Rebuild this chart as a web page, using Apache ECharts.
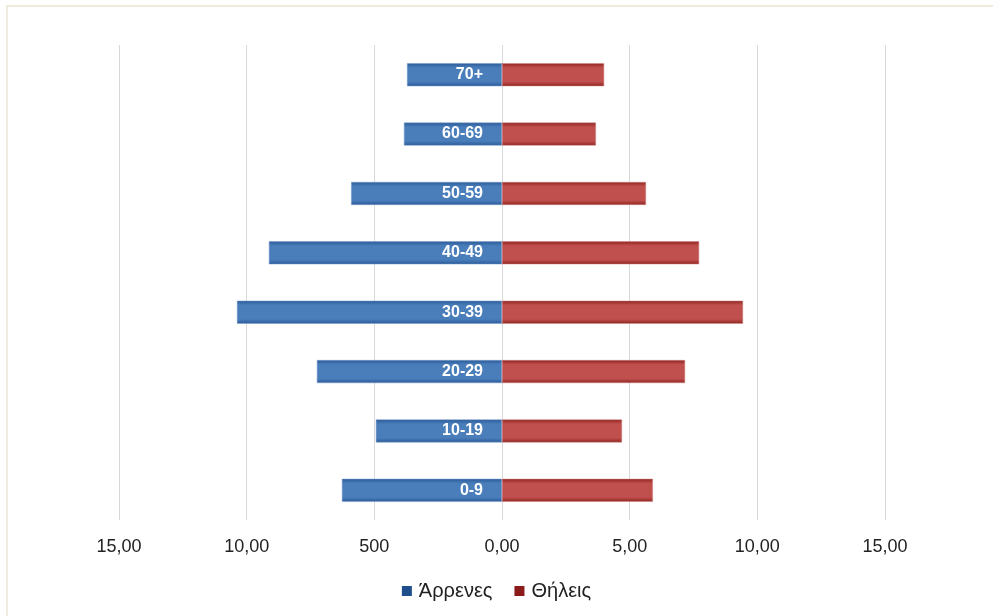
<!DOCTYPE html>
<html>
<head>
<meta charset="utf-8">
<script src="https://cdn.jsdelivr.net/npm/echarts@6/dist/echarts.min.js"></script>
<style>html,body{margin:0;padding:0;background:#fff;}#c{width:993px;height:616px;}</style>
</head>
<body>
<div id="c"></div>
<script>
var categories = ['0-9', '10-19', '20-29', '30-39', '40-49', '50-59', '60-69', '70+'];
var males = [6.27, 4.94, 7.25, 10.38, 9.13, 5.91, 3.84, 3.72];
var females = [5.91, 4.70, 7.17, 9.44, 7.72, 5.64, 3.68, 4.00];
var tickLabels = ['15,00', '10,00', '500', '0,00', '5,00', '10,00', '15,00'];
var seriesNames = ['Άρρενες', 'Θήλεις'];

var chart = echarts.init(document.getElementById('c'));
function grad(edge, mid) {
  return new echarts.graphic.LinearGradient(0, 0, 0, 1, [
    {offset: 0, color: edge}, {offset: 0.2, color: mid}, {offset: 0.8, color: mid}, {offset: 1, color: edge}
  ]);
}
var FF = 'Liberation Sans, Arial, sans-serif';
chart.setOption({
  animation: false,
  backgroundColor: '#fff',
  graphic: [{
    type: 'polyline', shape: {points: [[7, 616], [7, 6], [993, 6]]},
    style: {stroke: '#efebdf', lineWidth: 2, fill: null}
  }],
  grid: {left: 119, right: 108, top: 45, bottom: 96},
  legend: {
    top: 576, left: 'center', itemWidth: 10, itemHeight: 10, itemGap: 22,
    icon: 'rect',
    textStyle: {fontFamily: FF, fontSize: 20, color: '#222', padding: [0, 0, 0, 2]},
    data: [
      {name: seriesNames[0], itemStyle: {color: '#1f4e8c', borderWidth: 0}},
      {name: seriesNames[1], itemStyle: {color: '#8b1a1a', borderWidth: 0}}
    ]
  },
  xAxis: {
    type: 'value', min: -15, max: 15, interval: 5,
    axisLine: {show: false}, axisTick: {show: false},
    splitLine: {lineStyle: {color: '#d9d9d9', width: 1}},
    axisLabel: {
      margin: 18, color: '#222', fontSize: 18, fontFamily: FF,
      formatter: function (v) { return tickLabels[Math.round((v + 15) / 5)]; }
    }
  },
  yAxis: {
    type: 'category', data: categories,
    axisLine: {show: false}, axisTick: {show: false}, axisLabel: {show: false}
  },
  series: [{
    name: seriesNames[0], type: 'bar', stack: 'a', barWidth: 23,
    data: males.map(function (v) { return -v; }),
    itemStyle: {color: grad('#2a5a97', '#4a7ebb'), borderColor: '#7a9fcf', borderWidth: 0.5},
    label: {
      show: true, position: 'insideRight', distance: 19,
      color: '#fff', fontWeight: 'bold', fontSize: 16, fontFamily: FF,
      formatter: function (p) { return p.name; }
    }
  }, {
    name: seriesNames[1], type: 'bar', stack: 'a', barWidth: 23,
    data: females,
    itemStyle: {color: grad('#8f2320', '#c0504d'), borderColor: '#d08a88', borderWidth: 0.5}
  }]
});
</script>
</body>
</html>
